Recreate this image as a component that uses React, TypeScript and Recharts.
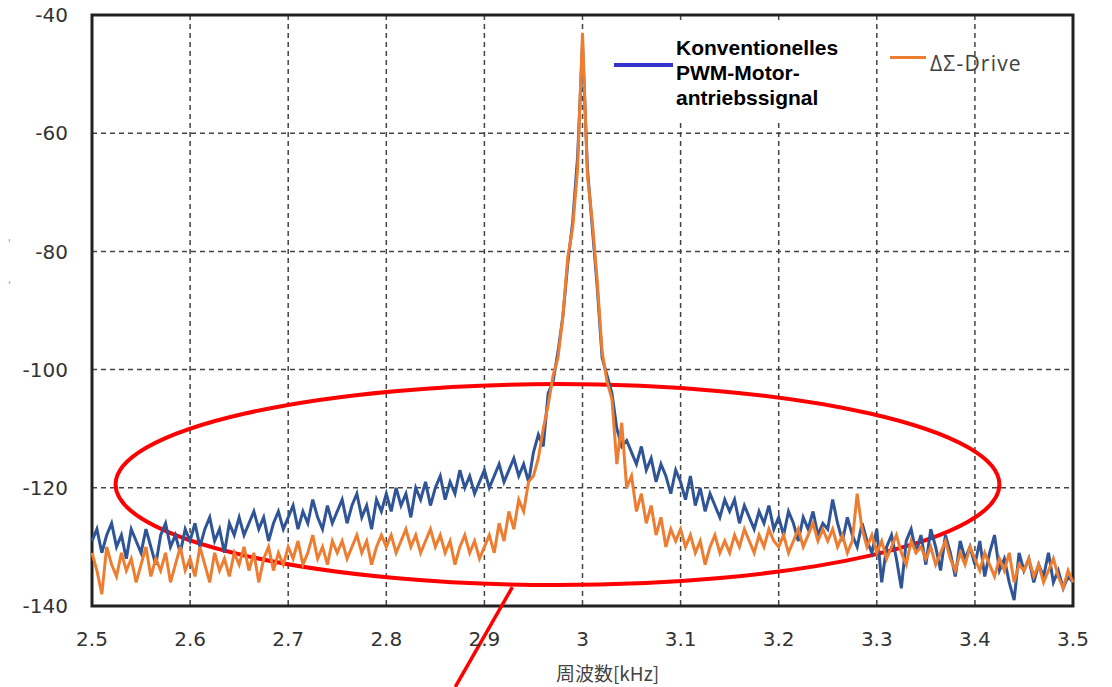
import React from 'react';
import {
  LineChart, Line, XAxis, YAxis, CartesianGrid, ReferenceArea, ReferenceLine
} from 'recharts';

// frequency grid: 2.5 .. 3.5 kHz, 0.005 kHz per sample
const FREQ_START = 2.5;
const FREQ_STEP = 0.005;

// conventional PWM motor drive signal [dB]
const PWM_SIGNAL = [
  -129, -127, -131, -128, -126, -130, -128, -132, -127, -129,
  -131, -127, -130, -133, -128, -126, -130, -128, -131, -127,
  -129, -126, -130, -127, -125, -129, -127, -131, -126, -128,
  -125, -128, -126, -124, -127, -125, -129, -126, -124, -127,
  -125, -123, -127, -124, -126, -122, -125, -127, -123, -126,
  -124, -122, -126, -123, -121, -125, -123, -127, -122, -124,
  -121, -124, -120, -123, -121, -125, -120, -122, -119, -123,
  -120, -118, -122, -119, -121, -117, -120, -118, -121, -119,
  -117, -120, -118, -116, -119, -117, -115, -118, -116, -119,
  -114, -111, -113, -104, -102, -97, -91, -82, -75, -64,
  -45, -66, -76, -86, -98, -101, -104, -110, -113, -112,
  -114, -116, -113, -117, -115, -119, -116, -118, -121, -117,
  -119, -122, -118, -123, -120, -124, -121, -123, -125, -122,
  -124, -122, -126, -123, -125, -127, -124, -126, -123, -127,
  -125, -128, -124, -126, -129, -125, -127, -124, -128, -126,
  -127, -122, -126, -129, -125, -128, -130, -126, -129, -131,
  -127, -136, -130, -128, -132, -137, -129, -127, -131, -128,
  -133, -127, -130, -134, -128, -131, -135, -129, -132, -130,
  -133, -129, -135, -131, -128, -134, -132, -136, -139, -131,
  -134, -132, -136, -133, -135, -131, -136, -134, -137, -135,
  -136
];

// ΔΣ drive [dB]
const DELTA_SIGMA = [
  -131, -134, -138, -130, -133, -135, -131, -134, -132, -136,
  -133, -130, -135, -132, -134, -131, -136, -133, -130, -134,
  -132, -135, -130, -133, -136, -131, -134, -132, -135, -131,
  -133, -130, -134, -131, -136, -132, -130, -134, -131, -133,
  -130, -132, -129, -133, -131, -128, -132, -130, -133, -129,
  -131, -129, -132, -130, -128, -131, -129, -133, -130, -128,
  -130, -128, -131, -129, -127, -130, -128, -131, -129, -127,
  -130, -128, -131, -129, -133, -130, -128, -131, -129, -132,
  -130, -128, -131, -126, -129, -124, -127, -122, -124, -119,
  -118, -115, -110, -106, -101, -98, -91, -81, -76, -66,
  -43, -67, -75, -85, -97, -102, -105, -116, -109, -120,
  -118, -124, -121, -126, -123, -128, -125, -130, -127, -129,
  -127, -130, -128, -131, -129, -133, -130, -128, -131, -129,
  -131, -128, -130, -127, -129, -131, -128, -130, -127, -129,
  -130, -128, -131, -129, -127, -130, -128, -126, -129, -127,
  -129, -127, -130, -128, -131, -129, -121, -127, -130, -128,
  -131, -129, -132, -130, -128, -131, -133, -129, -131, -130,
  -132, -130, -133, -131, -129, -132, -134, -131, -133, -130,
  -132, -134, -131, -133, -135, -132, -134, -131, -136, -133,
  -134, -132, -135, -133, -136, -134, -132, -135, -137, -134,
  -136
];

const X_TICKS = [2.5, 2.6, 2.7, 2.8, 2.9, 3.0, 3.1, 3.2, 3.3, 3.4, 3.5];
const Y_TICKS = [-140, -120, -100, -80, -60, -40];

const chartData = PWM_SIGNAL.map((v, i) => ({
  f: +(FREQ_START + i * FREQ_STEP).toFixed(3),
  pwm: v,
  ds: DELTA_SIGMA[i],
}));

const BLUE = '#2F5597';
const ORANGE = '#ED7D31';
const tickStyle = { fill: '#333', fontSize: 20, fontFamily: 'DejaVu Sans' };

const EllipseShape = (props: any) => {
  const { x, y, width, height } = props;
  return (
    <ellipse
      cx={x + width / 2}
      cy={y + height / 2}
      rx={width / 2}
      ry={height / 2}
      fill="none"
      stroke="#FF0000"
      strokeWidth={4}
    />
  );
};

export default function App() {
  return (
    <div style={{ position: 'absolute', left: 0, top: 0, width: 1112, height: 687, background: '#fff' }}>
      <LineChart
        width={1112}
        height={687}
        data={chartData}
        margin={{ top: 15, right: 39, bottom: 0, left: 0 }}
      >
        <CartesianGrid stroke="#444" strokeWidth={1.5} strokeDasharray="5 4" />
        <XAxis
          dataKey="f"
          type="number"
          domain={[2.5, 3.5]}
          ticks={X_TICKS}
          tickFormatter={(v: number) => String(+v.toFixed(1))}
          height={81}
          tickSize={0}
          tickMargin={26}
          axisLine={false}
          tickLine={false}
          tick={tickStyle}
          label={{
            value: '周波数[kHz]',
            position: 'insideBottom',
            offset: 6,
            dx: 25,
            fill: '#444',
            fontSize: 19,
            fontFamily: 'Noto Sans CJK JP',
          }}
        />
        <YAxis
          type="number"
          domain={[-140, -40]}
          ticks={Y_TICKS}
          width={92}
          tickSize={0}
          tickMargin={24}
          axisLine={false}
          tickLine={false}
          tick={tickStyle}
        />
        <Line
          dataKey="pwm"
          stroke={BLUE}
          strokeWidth={3}
          dot={false}
          isAnimationActive={false}
        />
        <Line
          dataKey="ds"
          stroke={ORANGE}
          strokeWidth={3}
          dot={false}
          isAnimationActive={false}
        />
        <ReferenceArea
          x1={2.5}
          x2={3.5}
          y1={-140}
          y2={-40}
          fill="none"
          stroke="#222"
          strokeWidth={3}
        />
        <ReferenceArea
          x1={2.524}
          x2={3.425}
          y1={-136.45}
          y2={-102.45}
          shape={EllipseShape}
          ifOverflow="visible"
        />
        <ReferenceLine
          segment={[{ x: 2.9285, y: -136.8 }, { x: 2.8703, y: -153.7 }]}
          stroke="#FF0000"
          strokeWidth={3.5}
          ifOverflow="visible"
        />
      </LineChart>

      {/* legend */}
      <div style={{ position: 'absolute', left: 595, top: 21, width: 280, height: 98, background: '#fff' }}>
        <div style={{ position: 'absolute', left: 19, top: 42, width: 59, height: 3.5, background: '#3333CC' }} />
        <div
          style={{
            position: 'absolute',
            left: 81,
            top: 14,
            fontFamily: 'Liberation Sans, Arial, sans-serif',
            fontWeight: 'bold',
            fontSize: 21,
            lineHeight: '25px',
            color: '#000',
          }}
        >
          Konventionelles<br />PWM-Motor-<br />antriebssignal
        </div>
      </div>
      <div style={{ position: 'absolute', left: 890, top: 56, width: 36, height: 2.5, background: ORANGE }} />
      <div
        style={{
          position: 'absolute',
          left: 930,
          top: 53,
          fontFamily: 'Open Sans, sans-serif',
          fontSize: 21,
          lineHeight: '21px',
          letterSpacing: 1.2,
          color: '#404040',
          whiteSpace: 'nowrap',
        }}
      >
        ΔΣ-Drive
      </div>
      <div style={{ position: 'absolute', left: 8, top: 238, fontSize: 10, color: '#889', fontFamily: 'DejaVu Sans' }}>'</div>
      <div style={{ position: 'absolute', left: 8, top: 274, fontSize: 10, color: '#889', fontFamily: 'DejaVu Sans' }}>,</div>
    </div>
  );
}
